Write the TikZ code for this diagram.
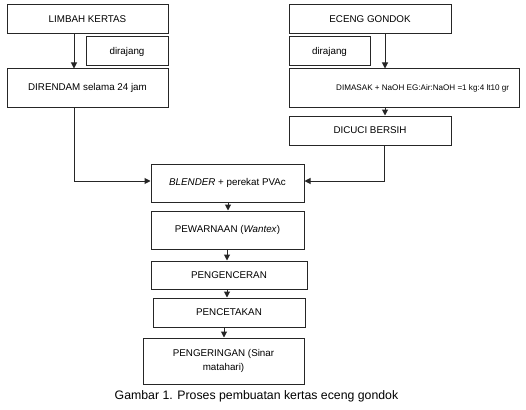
\documentclass[tikz,border=0pt]{standalone}
\usepackage{fontspec}
\setmainfont{Liberation Sans}
\usetikzlibrary{arrows.meta}
\begin{document}
\begin{tikzpicture}[x=1pt,y=-1pt,
  box/.style={draw=black!85, line width=1pt, inner sep=0pt, align=center, font=\fontsize{9.8}{14}\selectfont},
  txt/.style={inner sep=0pt, font=\fontsize{8.1}{10}\selectfont},
  arr/.style={draw=black!85, line width=1pt, -{Triangle[length=6pt,width=6pt]}},
  ln/.style={draw=black!85, line width=1pt}]
\useasboundingbox (0,0) rectangle (526,409);
\fill[white] (0,0) rectangle (526,409);
% left column
\node[box, minimum width=161pt, minimum height=29pt] (limbah) at (87.5,19.5) {LIMBAH KERTAS};
\node[box, minimum width=82pt, minimum height=29pt] (raj1) at (127,51.5) {dirajang};
\node[box, minimum width=161pt, minimum height=38pt] (rendam) at (87.5,88) {DIRENDAM selama 24 jam};
% right column
\node[box, minimum width=162pt, minimum height=29pt] (eceng) at (370,19.5) {ECENG GONDOK};
\node[box, minimum width=81pt, minimum height=29pt] (raj2) at (329.5,51.5) {dirajang};
\node[box, minimum width=230pt, minimum height=38pt] (masak) at (404,88) {};
\node[txt, anchor=west] (masaktxt) at (336,88) {DIMASAK + NaOH EG:Air:NaOH =1 kg:4 lt10 gr};
\node[box, minimum width=162pt, minimum height=29pt] (cuci) at (370,130.5) {DICUCI BERSIH};
% centre column
\node[box, minimum width=153pt, minimum height=38pt] (blender) at (227.5,183) {\textit{BLENDER} + perekat PVAc};
\node[box, minimum width=153pt, minimum height=38pt] (warna) at (227.5,230) {PEWARNAAN (\textit{Wantex})};
\node[box, minimum width=156pt, minimum height=28pt] (encer) at (229,275) {PENGENCERAN};
\node[box, minimum width=152pt, minimum height=29pt] (cetak) at (229,312.5) {PENCETAKAN};
\node[box, minimum width=161pt, minimum height=46pt] (kering) at (223.5,361) {PENGERINGAN (Sinar\\matahari)};
\node[font=\fontsize{12.3}{14}\selectfont] (cap) at (256.5,396.5) {Gambar 1. Proses pembuatan kertas eceng gondok};
% coordinates
\coordinate (lb) at (74,181);
\coordinate (rb) at (384,181);
% connectors
\draw[arr] (limbah.south -| 74,0) -- (rendam.north -| 74,0);
\draw[arr] (eceng.south -| 385,0) -- (masak.north -| 385,0);
\draw[arr] (masak.south -| 385,0) -- (cuci.north -| 385,0);
\draw[arr] (rendam.south -| lb) -- (lb) -- (lb -| blender.west);
\draw[arr] (cuci.south -| rb) -- (rb) -- (rb -| blender.east);
\draw[arr] (blender.south -| 228,0) -- (warna.north -| 228,0);
\draw[arr] (warna.south -| 227,0) -- (encer.north -| 227,0);
\draw[arr] (encer.south -| 227,0) -- (cetak.north -| 227,0);
\draw[arr] (cetak.south -| 224,0) -- (kering.north -| 224,0);
\end{tikzpicture}
\end{document}
